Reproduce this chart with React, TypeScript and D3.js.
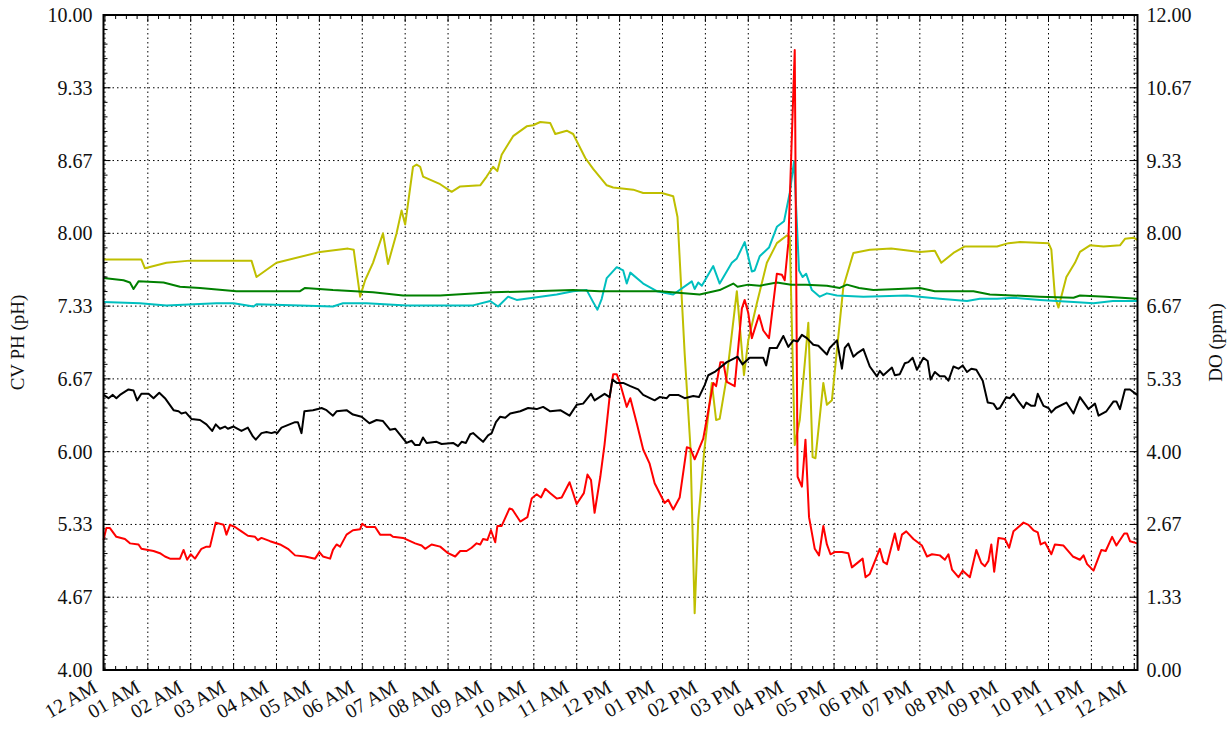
import React from 'react';
import * as d3 from 'd3';

// samples: [minutes after midnight, value on the left (pH) scale]
const yellowSeries: [number, number][] = [
  [-2, 7.76], [51, 7.76], [56, 7.68], [86, 7.73], [119, 7.75], [205, 7.75], [212, 7.6], [240, 7.73],
  [301, 7.83], [340, 7.86], [348, 7.85], [357, 7.42], [364, 7.57], [375, 7.73], [389, 8.0], [396, 7.72],
  [408, 8.0], [415, 8.21], [420, 8.08], [431, 8.61], [436, 8.63], [441, 8.61], [445, 8.52], [469, 8.45],
  [485, 8.38], [497, 8.43], [525, 8.44], [534, 8.52], [543, 8.61], [549, 8.57], [555, 8.72], [571, 8.89],
  [590, 8.98], [599, 8.99], [609, 9.02], [623, 9.01], [630, 8.91], [646, 8.94], [655, 8.91], [672, 8.69],
  [683, 8.59], [702, 8.44], [711, 8.42], [739, 8.4], [753, 8.37], [779, 8.37], [795, 8.34], [801, 8.15],
  [811, 6.9], [819, 6.05], [825, 4.52], [830, 5.37], [838, 5.98], [849, 6.63], [855, 6.29], [860, 6.3],
  [870, 6.69], [877, 7.08], [884, 7.47], [894, 6.7], [900, 7.02], [912, 7.36], [926, 7.73], [940, 7.91],
  [954, 7.98], [958, 7.97], [965, 6.06], [972, 6.29], [984, 7.18], [990, 5.95], [994, 5.94], [1005, 6.63],
  [1010, 6.43], [1017, 6.47], [1024, 6.93], [1033, 7.51], [1047, 7.82], [1070, 7.85], [1100, 7.86],
  [1140, 7.83], [1161, 7.84], [1170, 7.73], [1187, 7.82], [1203, 7.88], [1248, 7.88], [1264, 7.91],
  [1280, 7.92], [1320, 7.91], [1324, 7.85], [1329, 7.42], [1334, 7.32], [1345, 7.6], [1357, 7.73],
  [1364, 7.83], [1378, 7.89], [1397, 7.88], [1420, 7.89], [1427, 7.95], [1439, 7.96], [1444, 7.94],
];

const greenSeries: [number, number][] = [
  [-2, 7.59], [26, 7.57], [35, 7.55], [40, 7.49], [47, 7.56], [82, 7.55], [105, 7.51], [133, 7.5],
  [184, 7.47], [273, 7.47], [280, 7.5], [319, 7.48], [375, 7.46], [417, 7.43], [469, 7.43], [543, 7.46],
  [600, 7.47], [655, 7.48], [692, 7.47], [776, 7.47], [832, 7.44], [860, 7.48], [879, 7.54], [885, 7.51],
  [900, 7.53], [916, 7.52], [940, 7.55], [960, 7.53], [981, 7.53], [1010, 7.52], [1028, 7.5], [1038, 7.53],
  [1055, 7.5], [1075, 7.48], [1110, 7.49], [1140, 7.5], [1161, 7.47], [1215, 7.47], [1238, 7.44],
  [1308, 7.42], [1355, 7.41], [1364, 7.43], [1400, 7.42], [1444, 7.4],
];

const cyanSeries: [number, number][] = [
  [-2, 7.37], [49, 7.36], [86, 7.34], [156, 7.36], [180, 7.36], [208, 7.33], [212, 7.35], [273, 7.34],
  [319, 7.33], [333, 7.36], [366, 7.36], [422, 7.34], [469, 7.34], [515, 7.34], [539, 7.38], [550, 7.33],
  [564, 7.42], [576, 7.39], [599, 7.41], [632, 7.44], [655, 7.47], [674, 7.48], [683, 7.37], [689, 7.3],
  [695, 7.4], [702, 7.59], [716, 7.69], [725, 7.66], [730, 7.54], [735, 7.64], [753, 7.54], [772, 7.47],
  [795, 7.44], [821, 7.56], [825, 7.49], [830, 7.55], [835, 7.52], [851, 7.7], [860, 7.54], [877, 7.73],
  [884, 7.77], [895, 7.92], [905, 7.65], [909, 7.66], [916, 7.79], [929, 7.87], [940, 8.06], [950, 8.11],
  [958, 8.37], [964, 8.66], [971, 7.66], [976, 7.6], [981, 7.63], [989, 7.48], [1000, 7.42], [1010, 7.45],
  [1024, 7.43], [1061, 7.42], [1122, 7.43], [1168, 7.4], [1206, 7.38], [1224, 7.4], [1248, 7.4],
  [1271, 7.41], [1308, 7.39], [1355, 7.37], [1383, 7.36], [1410, 7.38], [1444, 7.38],
];

const blackSeries: [number, number][] = [
  [-2, 6.52], [5, 6.49], [11, 6.52], [16, 6.49], [21, 6.52], [33, 6.57], [40, 6.56], [45, 6.47], [51, 6.53],
  [61, 6.53], [68, 6.49], [76, 6.54], [84, 6.49], [96, 6.38], [103, 6.37], [107, 6.35], [113, 6.36],
  [121, 6.3], [133, 6.29], [142, 6.25], [150, 6.19], [155, 6.25], [161, 6.21], [168, 6.23], [172, 6.21],
  [180, 6.23], [191, 6.19], [200, 6.22], [207, 6.14], [211, 6.11], [219, 6.17], [226, 6.18], [233, 6.17],
  [238, 6.18], [241, 6.17], [247, 6.22], [266, 6.27], [270, 6.27], [275, 6.17], [279, 6.37], [291, 6.38],
  [298, 6.39], [303, 6.4], [310, 6.38], [319, 6.33], [324, 6.37], [338, 6.38], [347, 6.34], [359, 6.32],
  [370, 6.26], [380, 6.29], [389, 6.28], [399, 6.2], [406, 6.21], [422, 6.08], [429, 6.1], [434, 6.06],
  [440, 6.06], [445, 6.13], [450, 6.08], [464, 6.09], [471, 6.07], [487, 6.08], [494, 6.05], [499, 6.09],
  [505, 6.08], [511, 6.16], [515, 6.17], [522, 6.13], [529, 6.09], [536, 6.15], [541, 6.17], [547, 6.27],
  [553, 6.32], [560, 6.31], [567, 6.35], [581, 6.37], [592, 6.4], [604, 6.39], [613, 6.41], [623, 6.37],
  [637, 6.38], [650, 6.33], [660, 6.43], [669, 6.44], [680, 6.53], [685, 6.47], [699, 6.53], [706, 6.5],
  [710, 6.66], [716, 6.63], [725, 6.63], [735, 6.6], [746, 6.57], [753, 6.52], [769, 6.47], [776, 6.5],
  [786, 6.49], [790, 6.52], [802, 6.52], [811, 6.49], [823, 6.51], [831, 6.5], [839, 6.61], [844, 6.7],
  [853, 6.73], [870, 6.82], [879, 6.85], [885, 6.87], [892, 6.8], [902, 6.86], [921, 6.86], [925, 6.79],
  [930, 6.95], [940, 6.95], [949, 7.06], [956, 6.96], [963, 7.02], [969, 7.01], [975, 7.07], [982, 7.04],
  [991, 6.98], [998, 6.97], [1010, 6.89], [1014, 6.95], [1024, 7.02], [1031, 6.76], [1035, 6.95],
  [1040, 6.99], [1047, 6.87], [1052, 6.9], [1061, 6.94], [1070, 6.78], [1080, 6.69], [1084, 6.74],
  [1089, 6.7], [1101, 6.77], [1105, 6.7], [1112, 6.71], [1119, 6.81], [1124, 6.82], [1130, 6.86],
  [1136, 6.75], [1145, 6.86], [1151, 6.83], [1155, 6.66], [1161, 6.73], [1168, 6.69], [1175, 6.69],
  [1180, 6.65], [1187, 6.78], [1194, 6.76], [1200, 6.79], [1206, 6.73], [1212, 6.76], [1219, 6.75],
  [1228, 6.65], [1235, 6.45], [1243, 6.44], [1248, 6.39], [1252, 6.4], [1261, 6.5], [1266, 6.49],
  [1271, 6.53], [1278, 6.46], [1285, 6.4], [1289, 6.45], [1296, 6.42], [1301, 6.42], [1305, 6.53],
  [1313, 6.42], [1320, 6.4], [1324, 6.36], [1330, 6.4], [1345, 6.45], [1355, 6.35], [1364, 6.5],
  [1376, 6.39], [1385, 6.44], [1390, 6.33], [1401, 6.37], [1411, 6.46], [1415, 6.46], [1420, 6.39],
  [1427, 6.57], [1434, 6.57], [1444, 6.52],
];

const redSeries: [number, number][] = [
  [-2, 5.19], [2, 5.3], [7, 5.3], [16, 5.22], [28, 5.2], [35, 5.16], [47, 5.15], [51, 5.11], [68, 5.09],
  [77, 5.07], [84, 5.04], [91, 5.02], [105, 5.02], [110, 5.1], [115, 5.01], [120, 5.06], [126, 5.02],
  [135, 5.11], [142, 5.13], [147, 5.13], [155, 5.35], [166, 5.33], [170, 5.24], [175, 5.33], [182, 5.31],
  [191, 5.27], [200, 5.23], [210, 5.22], [214, 5.19], [219, 5.21], [231, 5.18], [245, 5.15], [256, 5.11],
  [266, 5.05], [280, 5.04], [294, 5.02], [300, 5.08], [305, 5.04], [315, 5.02], [319, 5.1], [324, 5.15],
  [329, 5.13], [338, 5.24], [347, 5.28], [357, 5.29], [360, 5.34], [366, 5.31], [378, 5.31], [385, 5.24],
  [399, 5.24], [403, 5.22], [417, 5.21], [434, 5.16], [443, 5.14], [448, 5.11], [457, 5.15], [469, 5.13],
  [480, 5.07], [490, 5.04], [497, 5.09], [506, 5.09], [513, 5.12], [520, 5.16], [525, 5.15], [529, 5.2],
  [535, 5.19], [540, 5.28], [546, 5.17], [549, 5.32], [555, 5.32], [566, 5.48], [570, 5.47], [581, 5.36],
  [586, 5.38], [591, 5.4], [597, 5.57], [604, 5.61], [610, 5.58], [616, 5.66], [623, 5.62], [632, 5.57],
  [639, 5.58], [650, 5.72], [660, 5.52], [670, 5.62], [675, 5.79], [680, 5.74], [685, 5.44], [693, 5.77],
  [699, 6.07], [706, 6.5], [711, 6.71], [716, 6.71], [720, 6.64], [730, 6.41], [735, 6.49], [744, 6.26],
  [753, 6.02], [762, 5.89], [769, 5.71], [783, 5.53], [788, 5.56], [795, 5.47], [804, 5.58], [814, 6.04],
  [819, 6.03], [825, 5.93], [837, 6.12], [844, 6.37], [851, 6.63], [855, 6.6], [861, 6.82], [865, 6.82],
  [870, 6.64], [881, 6.6], [891, 7.31], [895, 7.39], [900, 7.27], [905, 7.04], [915, 7.25], [921, 7.11],
  [929, 7.04], [940, 7.63], [947, 7.62], [951, 7.57], [956, 7.91], [965, 9.68], [969, 5.77], [975, 5.68],
  [980, 6.11], [985, 5.4], [993, 5.11], [999, 5.05], [1005, 5.32], [1010, 5.15], [1015, 5.06],
  [1021, 5.08], [1031, 5.08], [1040, 5.07], [1045, 4.94], [1060, 5.02], [1064, 4.85], [1070, 4.88],
  [1084, 5.11], [1089, 4.99], [1094, 4.97], [1105, 5.25], [1110, 5.1], [1115, 5.24], [1121, 5.27],
  [1131, 5.2], [1143, 5.14], [1150, 5.04], [1157, 5.06], [1168, 5.05], [1175, 5.01], [1180, 5.06],
  [1185, 4.92], [1194, 4.85], [1200, 4.91], [1210, 4.85], [1219, 5.1], [1226, 4.98], [1231, 4.95],
  [1236, 5.0], [1240, 5.15], [1244, 4.9], [1250, 5.21], [1259, 5.2], [1265, 5.12], [1271, 5.27],
  [1278, 5.31], [1285, 5.35], [1292, 5.33], [1299, 5.28], [1305, 5.26], [1309, 5.15], [1315, 5.17],
  [1324, 5.06], [1329, 5.15], [1341, 5.14], [1354, 5.04], [1364, 5.01], [1369, 5.05], [1374, 4.97],
  [1383, 4.91], [1394, 5.1], [1400, 5.09], [1409, 5.22], [1415, 5.14], [1426, 5.25], [1430, 5.25],
  [1434, 5.18], [1444, 5.16],
];

const seriesOrder = [
  { name: 'yellow', data: yellowSeries, color: '#bfbf00' },
  { name: 'cyan', data: cyanSeries, color: '#00bfbf' },
  { name: 'green', data: greenSeries, color: '#008000' },
  { name: 'red', data: redSeries, color: '#ff0000' },
  { name: 'black', data: blackSeries, color: '#000000' },
];

const leftTicks = d3.range(10).map((i) => 4 + (i * 2) / 3);
const rightTicks = d3.range(10).map((i) => (i * 4) / 3);

const W = 1231, H = 734;
const left = 103.5, right = 1137.5, top = 15, bottom = 670;
const font = '"Liberation Serif", "DejaVu Serif", serif';

const day0 = new Date(2014, 0, 1, 0, 0, 0);
const toDate = (m: number) => new Date(day0.getTime() + m * 60000);

export default function App() {
  const x = d3.scaleTime().domain([toDate(-2), toDate(1444.5)]).range([left, right]);
  const yL = d3.scaleLinear().domain([4, 10]).range([bottom, top]);
  const yR = d3.scaleLinear().domain([0, 12]).range([bottom, top]);

  const hourTicks = x.ticks(d3.timeHour.every(1)!);
  const minorX = x.ticks(d3.timeMinute.every(15)!).filter((d) => d.getMinutes() !== 0);
  const minorY = d3.range(46).filter((i) => i % 5 !== 0).map((i) => 4 + (i * 2) / 15);
  const fmt = d3.timeFormat('%I %p');

  const line = d3.line<[number, number]>()
    .x((d) => x(toDate(d[0])))
    .y((d) => yL(d[1]));

  const major = 7, minor = 4;

  return (
    <svg width={W} height={H} style={{ position: 'absolute', left: 0, top: 0, background: '#fff' }}
      fontFamily={font}>
      {/* grid */}
      <g stroke="#000" strokeWidth={1} strokeDasharray="1.5,3">
        {hourTicks.map((d, i) => (
          <line key={'gx' + i} x1={x(d)} x2={x(d)} y1={top} y2={bottom} />
        ))}
        {leftTicks.map((v, i) => (
          <line key={'gy' + i} x1={left} x2={right} y1={yL(v)} y2={yL(v)} />
        ))}
      </g>

      {/* series */}
      <g fill="none" strokeWidth={2} strokeLinejoin="round">
        {seriesOrder.map((s) => (
          <path key={s.name} d={line(s.data) || ''} stroke={s.color} />
        ))}
      </g>

      {/* ticks */}
      <g stroke="#000" strokeWidth={1}>
        {hourTicks.map((d, i) => (
          <g key={'tx' + i}>
            <line x1={x(d)} x2={x(d)} y1={bottom} y2={bottom - major} />
            <line x1={x(d)} x2={x(d)} y1={top} y2={top + major} />
          </g>
        ))}
        {minorX.map((d, i) => (
          <g key={'mx' + i}>
            <line x1={x(d)} x2={x(d)} y1={bottom} y2={bottom - minor} />
            <line x1={x(d)} x2={x(d)} y1={top} y2={top + minor} />
          </g>
        ))}
        {leftTicks.map((v, i) => (
          <g key={'ty' + i}>
            <line x1={left} x2={left + major} y1={yL(v)} y2={yL(v)} />
            <line x1={right} x2={right - major} y1={yL(v)} y2={yL(v)} />
          </g>
        ))}
        {minorY.map((v, i) => (
          <g key={'my' + i}>
            <line x1={left} x2={left + minor} y1={yL(v)} y2={yL(v)} />
            <line x1={right} x2={right - minor} y1={yL(v)} y2={yL(v)} />
          </g>
        ))}
      </g>

      {/* frame */}
      <rect x={left} y={top} width={right - left} height={bottom - top} fill="none" stroke="#000" strokeWidth={2} />

      {/* tick labels */}
      <g fontSize={20} fill="#111">
        {leftTicks.map((v, i) => (
          <text key={'ly' + i} x={left - 11} y={yL(v)} dy="0.35em" textAnchor="end">{v.toFixed(2)}</text>
        ))}
        {rightTicks.map((v, i) => (
          <text key={'ry' + i} x={right + 9} y={yR(v)} dy="0.35em" textAnchor="start">{v.toFixed(2)}</text>
        ))}
        {hourTicks.map((d, i) => (
          <text key={'lx' + i} transform={`translate(${x(d) - 6.5},${bottom + 21}) rotate(-30)`} textAnchor="end">
            {fmt(d)}
          </text>
        ))}
      </g>

      {/* axis titles */}
      <text transform={`translate(24,${(top + bottom) / 2}) rotate(-90)`} textAnchor="middle" fontSize={19} fill="#111">
        CV PH (pH)
      </text>
      <text transform={`translate(1222,${(top + bottom) / 2}) rotate(-90)`} textAnchor="middle" fontSize={19} fill="#111">
        DO (ppm)
      </text>
    </svg>
  );
}
